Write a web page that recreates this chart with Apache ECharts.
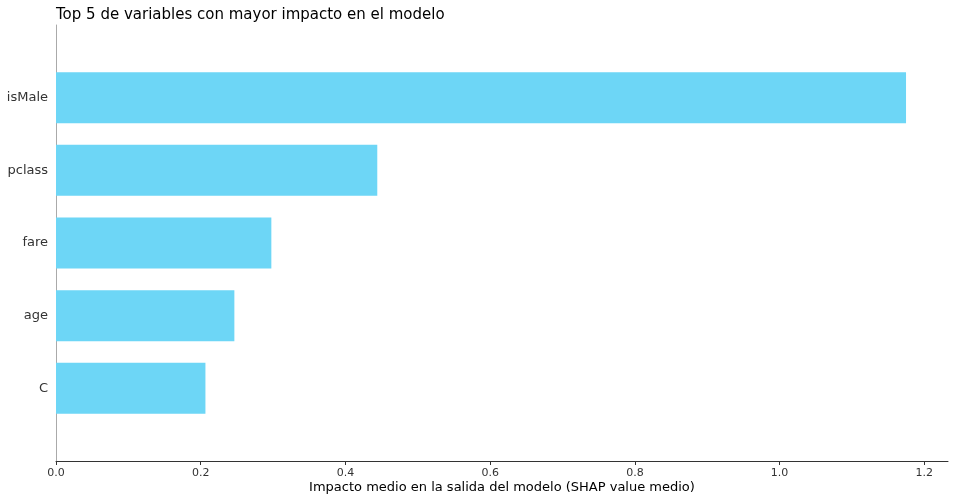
<!DOCTYPE html>
<html><head><meta charset="utf-8">
<script src="https://cdn.jsdelivr.net/npm/echarts@6/dist/echarts.min.js"></script>
<style>html,body{margin:0;padding:0;background:#fff}#c{width:955px;height:501px}</style>
</head><body><div id="c"></div>
<script>
var categories = ['C', 'age', 'fare', 'pclass', 'isMale'];
var values = [0.2065, 0.2465, 0.2976, 0.4440, 1.1747];
var xTicks = [0, 0.2, 0.4, 0.6, 0.8, 1.0, 1.2];
var titleText = 'Top 5 de variables con mayor impacto en el modelo';
var xName = 'Impacto medio en la salida del modelo (SHAP value medio)';

// pad with empty slots above/below (matplotlib ylim -1..5)
var cats = [' '].concat(categories).concat(['  ']);
var data = ['-'].concat(values).concat(['-']);
var font = 'DejaVu Sans';
var chart = echarts.init(document.getElementById('c'));
chart.setOption({
  animation: false,
  textStyle: {fontFamily: font},
  title: {text: titleText, left: 51, top: 3, textStyle: {fontFamily: font, fontSize: 15, fontWeight: 'normal', color: '#000'}},
  grid: {left: 56, right: 7, top: 25, bottom: 40, containLabel: false, outerBoundsMode: 'none'},
  xAxis: {
    type: 'value', min: 0, max: 1.2327, interval: 0.2,
    name: xName, nameLocation: 'middle', nameGap: 20, nameMoveOverlap: false,
    nameTextStyle: {fontFamily: font, fontSize: 13, color: '#000'},
    axisLine: {show: true, lineStyle: {color: '#333', width: 1}},
    axisTick: {show: true, length: 4, lineStyle: {color: '#333'}},
    axisLabel: {fontFamily: font, fontSize: 11, color: '#333', margin: 7, showMaxLabel: false,
      formatter: function (v) { return xTicks.some(function(t){return Math.abs(t - v) < 1e-6;}) ? v.toFixed(1) : ''; }},
    splitLine: {show: false}
  },
  yAxis: {
    type: 'category', data: cats, boundaryGap: false,
    axisLine: {show: true, lineStyle: {color: '#aaa', width: 1}},
    axisTick: {show: false},
    axisLabel: {fontFamily: font, fontSize: 13, color: '#333', margin: 8},
    splitLine: {show: false}
  },
  series: [{type: 'bar', data: data, barWidth: 51, itemStyle: {color: '#6dd6f6'}}]
});
</script></body></html>
